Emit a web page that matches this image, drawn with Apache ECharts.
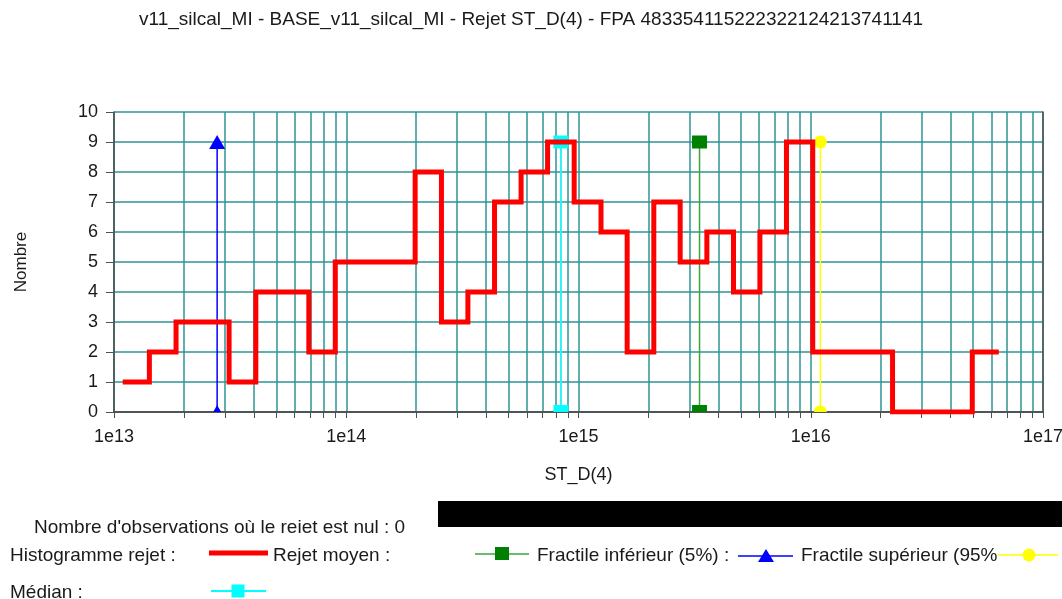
<!DOCTYPE html>
<html>
<head>
<meta charset="utf-8">
<script src="https://cdn.jsdelivr.net/npm/echarts@6/dist/echarts.min.js"></script>
<style>
  html, body { margin: 0; padding: 0; background: #fff; }
  #chart { width: 1062px; height: 599px; }
</style>
</head>
<body>
<div id="chart"></div>
<script>
const chartTitle = 'v11_silcal_MI - BASE_v11_silcal_MI - Rejet ST_D(4) - FPA 483354115222322124213741141'

// histogram of the rejet: bin edges on ST_D(4) and count in each bin
const binEdges = [
  1.09e13, 1.42e13, 1.85e13, 2.41e13, 3.13e13, 4.08e13, 5.30e13, 6.90e13, 8.97e13,
  1.17e14, 1.52e14, 1.98e14, 2.57e14, 3.34e14, 4.35e14, 5.66e14, 7.36e14, 9.58e14,
  1.25e15, 1.62e15, 2.11e15, 2.74e15, 3.57e15, 4.65e15, 6.04e15, 7.86e15,
  1.02e16, 1.33e16, 1.73e16, 2.25e16, 2.93e16, 3.81e16, 4.96e16, 6.45e16
]
const binCounts = [1, 2, 3, 3, 1, 4, 4, 2, 5, 5, 5, 8, 3, 4, 7, 8, 9, 7, 6, 2, 7, 5, 6, 4, 6, 9, 2, 2, 2, 0, 0, 0, 2]

// statistics shown as vertical markers
const rejetMoyen = 3.32e15
const fractileInf = 2.78e13
const fractileSup = 1.10e16
const median = 8.40e14
const markerHeight = 9

const FONT = 'Liberation Sans, Arial, sans-serif'
const TEXT = '#1a1a1a'
const GRID = '#2f9595'
const AXIS = '#505050'

// step line: each bin drawn from its left edge, last point closes the final bin
const histData = binCounts.map((c, i) => [binEdges[i], c])
histData.push([binEdges[binEdges.length - 1], binCounts[binCounts.length - 1]])

const halfDisk = 'path://M0,10A10,10,0,0,1,20,10Z'

// vertical marker from 0 up to markerHeight; bottom symbol is cut by the axis
const marker = (name, x, color, lineColor, lineWidth, symbol, size, bottomSymbol, bottomSize) => ({
  name,
  type: 'line',
  animation: false,
  silent: true,
  z: 3,
  data: [
    { value: [x, 0], symbol: bottomSymbol, symbolSize: bottomSize, symbolOffset: [0, -bottomSize[1] / 2] },
    { value: [x, markerHeight], symbol: symbol, symbolSize: size }
  ],
  showSymbol: true,
  lineStyle: { color: lineColor, width: lineWidth },
  itemStyle: { color: color }
})

const chart = echarts.init(document.getElementById('chart'))

const legendText = (x, y, text) => ({
  type: 'text', left: x, top: y - 9,
  style: { text, font: '19px ' + FONT, fill: TEXT }
})
const legendLine = (x1, x2, y, color, width) => ({
  type: 'line', shape: { x1, y1: y, x2, y2: y }, style: { stroke: color, lineWidth: width }
})

chart.setOption({
  backgroundColor: '#fff',
  animation: false,
  title: {
    text: chartTitle,
    left: 'center',
    top: 5,
    textStyle: { fontFamily: FONT, fontSize: 19, fontWeight: 'normal', color: TEXT }
  },
  grid: { left: 114, right: 19, top: 112, bottom: 187, outerBoundsMode: 'none', containLabel: false },
  xAxis: [{
    type: 'log',
    logBase: 10,
    min: 1e13,
    max: 1e17,
    name: 'ST_D(4)',
    nameLocation: 'middle',
    nameGap: 54,
    nameTextStyle: { fontFamily: FONT, fontSize: 18, color: TEXT },
    axisLine: { lineStyle: { color: AXIS, width: 1.5 } },
    axisTick: { length: 6, lineStyle: { color: AXIS, width: 1 } },
    minorTick: { show: true, splitNumber: 9, length: 6, lineStyle: { color: AXIS, width: 1 } },
    splitLine: { show: true, lineStyle: { color: GRID, width: 1.5 } },
    minorSplitLine: { show: true, lineStyle: { color: GRID, width: 1.5 } },
    axisLabel: {
      margin: 16,
      fontFamily: FONT, fontSize: 18, color: TEXT,
      formatter: v => '1e' + Math.round(Math.log10(v))
    }
  }, {
    type: 'log', min: 1e13, max: 1e17, position: 'top',
    axisLine: { show: true, lineStyle: { color: AXIS, width: 1.5 } },
    axisTick: { show: false }, axisLabel: { show: false }, splitLine: { show: false }
  }],
  yAxis: [{
    type: 'value',
    min: 0,
    max: 10,
    interval: 1,
    name: 'Nombre',
    nameLocation: 'middle',
    nameGap: 84,
    nameTextStyle: { fontFamily: FONT, fontSize: 17, color: TEXT },
    axisLine: { show: true, lineStyle: { color: AXIS, width: 1.5 } },
    axisTick: { show: true, length: 8, lineStyle: { color: AXIS, width: 1 } },
    splitLine: { show: true, lineStyle: { color: GRID, width: 1.5 } },
    axisLabel: { margin: 16, fontFamily: FONT, fontSize: 18, color: TEXT }
  }, {
    type: 'value', min: 0, max: 10, position: 'right',
    axisLine: { show: true, lineStyle: { color: AXIS, width: 1.5 } },
    axisTick: { show: false }, axisLabel: { show: false }, splitLine: { show: false }
  }],
  series: [
    {
      name: 'Histogramme rejet',
      type: 'line',
      step: 'end',
      data: histData,
      showSymbol: false,
      silent: true,
      z: 4,
      lineStyle: { color: '#ff0000', width: 5, join: 'miter', cap: 'butt' }
    },
    marker('Fractile inférieur (5%)', fractileInf, '#0000ff', '#0000ff', 1.5, 'triangle', [16, 14], 'triangle', [8, 7]),
    marker('Médian', median, '#00ffff', '#2ef0f0', 2, 'rect', [15, 13], 'rect', [15, 7]),
    marker('Rejet moyen', rejetMoyen, '#008000', '#3aa63a', 1.5, 'rect', [15, 13], 'rect', [15, 7]),
    marker('Fractile supérieur (95%)', fractileSup, '#ffff00', '#ffff00', 1.5, 'circle', [13, 13], halfDisk, [13, 6.5])
  ],
  graphic: [
    legendText(34, 527, "Nombre d'observations où le reiet est nul : 0"),
    { type: 'rect', shape: { x: 438, y: 501, width: 624, height: 26 }, style: { fill: '#000' } },
    legendText(10, 555, 'Histogramme rejet :'),
    legendLine(209, 268, 553, '#ff0000', 5),
    legendText(273, 555, 'Rejet moyen :'),
    legendLine(475, 529, 554, '#3aa63a', 1.5),
    { type: 'rect', shape: { x: 495, y: 547, width: 14, height: 13 }, style: { fill: '#008000' } },
    legendText(537, 555, 'Fractile inférieur (5%) :'),
    legendLine(738, 793, 556, '#0000ff', 1.5),
    { type: 'polygon', shape: { points: [[766, 549], [758, 562], [774, 562]] }, style: { fill: '#0000ff' } },
    legendText(801, 555, 'Fractile supérieur (95%'),
    legendLine(998, 1058, 555, '#ffff00', 1.5),
    { type: 'circle', shape: { cx: 1029, cy: 555, r: 6.5 }, style: { fill: '#ffff00' } },
    legendText(10, 592, 'Médian :'),
    legendLine(211, 266, 591, '#00ffff', 2),
    { type: 'rect', shape: { x: 231.5, y: 584.5, width: 13, height: 13 }, style: { fill: '#00ffff' } }
  ]
})

window.addEventListener('resize', () => chart.resize())
</script>
</body>
</html>
